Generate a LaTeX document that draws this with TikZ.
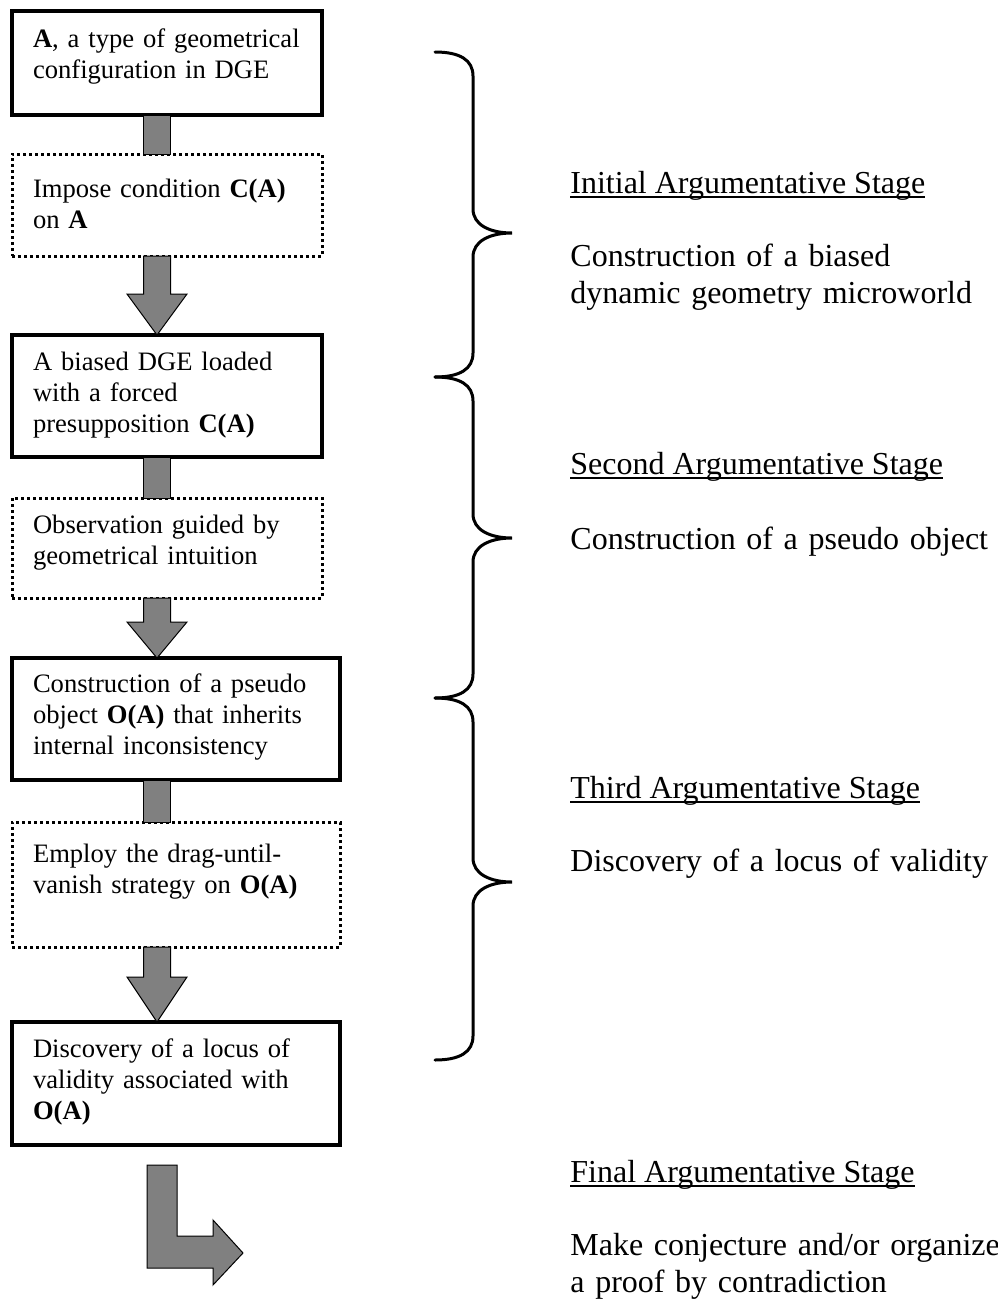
\documentclass[tikz,border=0pt]{standalone}
\usepackage{fontspec}
\setmainfont{Liberation Serif}
\usetikzlibrary{calc}

\definecolor{arrowgray}{RGB}{128,128,128}

% podtrzeny nadpis
\newsavebox{\stageulbox}
\newcommand{\stageul}[1]{\sbox{\stageulbox}{#1}\rlap{\rule[-2.5pt]{\wd\stageulbox}{1pt}}\usebox{\stageulbox}}

% sipka dolu: odkud, kam, delka hrotu (px)
\newcommand{\flowarrow}[3]{%
  \draw[connector] ($(#1)+(-13.5,0)$) -- ($(#2)+(-13.5,-#3)$) -- ($(#2)+(-30,-#3)$) -- (#2)
    -- ($(#2)+(30,-#3)$) -- ($(#2)+(13.5,-#3)$) -- ($(#1)+(13.5,0)$) -- cycle;}

% slozena zavorka: horni konec, hrot, dolni konec (px)
\newcommand{\stagebrace}[3]{%
  \draw[bracestroke] (435,#1) .. controls (460,#1) and (473,{#1+8}) .. (473,{#1+24})
    -- (473,{#2-24}) .. controls (473,{#2-8}) and (490,#2) .. (512,#2)
    .. controls (490,#2) and (473,{#2+8}) .. (473,{#2+24})
    -- (473,{#3-24}) .. controls (473,{#3-8}) and (460,#3) .. (435,#3);}

\begin{document}
\begin{tikzpicture}[
    x=0.5pt, y=-0.5pt,
    every node/.style={font=\fontsize{13.3}{15.5}\selectfont},
    stagebox/.style={draw, fill=white, line width=1.6pt, outer sep=0pt, anchor=north west,
        inner xsep=10.5pt, inner ysep=6pt, text width=134pt, align=left},
    widebox/.style={stagebox, text width=143pt},
    dotbox/.style={dash pattern=on 1.5pt off 1.5pt, line width=1.5pt},
    connector/.style={fill=arrowgray, draw=black, line width=0.5pt},
    stagetitle/.style={anchor=base west, inner sep=0pt, font=\fontsize{16}{18.5}\selectfont},
    stagetext/.style={stagetitle, text width=230pt, align=left},
    bracestroke/.style={line width=1.5pt, line cap=round}
]
\useasboundingbox (0,0) rectangle (997,1301);

% kroky postupu
\node[stagebox, text height=12pt, text depth=28pt] (b1) at (12,11)
    {\textbf{A}, a type of geometrical\\configuration in DGE};
\node[stagebox, dotbox, text height=15.5pt, text depth=23.5pt] (d1) at (12,154)
    {Impose condition \textbf{C(A)}\\on \textbf{A}};
\node[stagebox, text height=11.5pt, text depth=37.5pt] (b2) at (12,335)
    {A biased DGE loaded\\with a forced\\presupposition \textbf{C(A)}};
\node[stagebox, dotbox, text height=11.5pt, text depth=26.5pt] (d2) at (12,498)
    {Observation guided by\\geometrical intuition};
\node[widebox, text height=11pt, text depth=38pt] (b3) at (12,658)
    {Construction of a pseudo\\object \textbf{O(A)} that inherits\\internal inconsistency};
\node[widebox, dotbox, text height=14pt, text depth=36.5pt] (d3) at (12,822)
    {Employ the drag-until-\\vanish strategy on \textbf{O(A)}};
\node[widebox, text height=11.5pt, text depth=38pt] (b4) at (12,1022)
    {Discovery of a locus of\\validity associated with\\\textbf{O(A)}};

% spojnice
\coordinate (axis) at (157,0);
\draw[connector] ($(b1.south -| axis)+(-13.5,0)$) rectangle ($(d1.north -| axis)+(13.5,0)$);
\draw[connector] ($(b2.south -| axis)+(-13.5,0)$) rectangle ($(d2.north -| axis)+(13.5,0)$);
\draw[connector] ($(b3.south -| axis)+(-13.5,0)$) rectangle ($(d3.north -| axis)+(13.5,0)$);
\flowarrow{d1.south -| axis}{b2.north -| axis}{41}
\flowarrow{d2.south -| axis}{b3.north -| axis}{36}
\flowarrow{d3.south -| axis}{b4.north -| axis}{45}

% zalomena sipka
\draw[connector] (147,1165) -- (177,1165) -- (177,1236) -- (213,1236) -- (213,1220)
    -- (243,1253) -- (213,1285) -- (213,1268) -- (147,1268) -- cycle;

% zavorky
\stagebrace{52}{233}{377}
\stagebrace{377}{538}{698}
\stagebrace{698}{882}{1060}

% popisky etap
\node[stagetitle] (t1) at (570,193) {\stageul{Initial Argumentative Stage}};
\node[stagetext] (s1) at (570,266) {Construction of a biased\\dynamic geometry microworld};
\node[stagetitle] (t2) at (570,474) {\stageul{Second Argumentative Stage}};
\node[stagetext] (s2) at (570,549) {Construction of a pseudo object};
\node[stagetitle] (t3) at (570,798) {\stageul{Third Argumentative Stage}};
\node[stagetext] (s3) at (570,871) {Discovery of a locus of validity};
\node[stagetitle] (t4) at (570,1182) {\stageul{Final Argumentative Stage}};
\node[stagetext] (s4) at (570,1255) {Make conjecture and/or organize\\a proof by contradiction};

\end{tikzpicture}
\end{document}
